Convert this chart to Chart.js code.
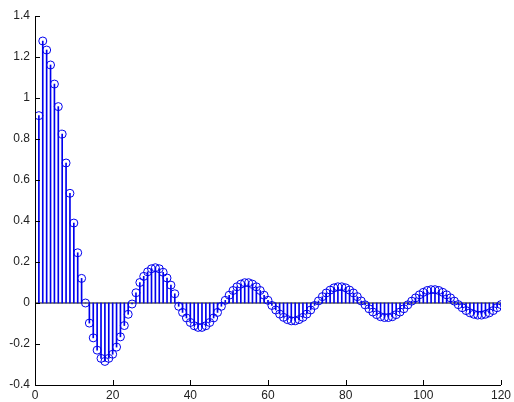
<!DOCTYPE html>
<html>
<head>
<meta charset="utf-8">
<script src="https://cdn.jsdelivr.net/npm/chart.js@4/dist/chart.umd.min.js"></script>
<style>
html,body{margin:0;padding:0;background:#fff;}
#wrap{width:514px;height:402px;}
</style>
</head>
<body>
<div id="wrap"><canvas id="c" width="514" height="402"></canvas></div>
<script>
// sample index n = 1..120
const sampleIndex = [];
for (let i = 1; i <= 120; i++) sampleIndex.push(i);

const values = [
  0.914, 1.278, 1.234, 1.161, 1.068, 0.958, 0.824, 0.683, 0.535, 0.39,
  0.245, 0.12, 0.0, -0.098, -0.17, -0.23, -0.27, -0.285, -0.27, -0.25,
  -0.215, -0.165, -0.11, -0.055, -0.005, 0.05, 0.10, 0.13, 0.152, 0.167,
  0.172, 0.167, 0.15, 0.122, 0.087, 0.045, -0.016, -0.046, -0.073, -0.095,
  -0.111, -0.119, -0.119, -0.111, -0.095, -0.073, -0.046, -0.016, 0.013, 0.038,
  0.061, 0.079, 0.092, 0.099, 0.099, 0.092, 0.079, 0.061, 0.038, 0.013,
  -0.012, -0.034, -0.054, -0.070, -0.081, -0.087, -0.087, -0.081, -0.070, -0.054,
  -0.034, -0.012, 0.010, 0.031, 0.049, 0.063, 0.074, 0.079, 0.079, 0.074,
  0.063, 0.049, 0.031, 0.010, -0.009, -0.028, -0.044, -0.057, -0.067, -0.071,
  -0.071, -0.067, -0.057, -0.044, -0.028, -0.009, 0.009, 0.025, 0.040, 0.052,
  0.061, 0.065, 0.065, 0.061, 0.052, 0.040, 0.025, 0.009, -0.008, -0.023,
  -0.037, -0.048, -0.055, -0.059, -0.059, -0.055, -0.048, -0.037, -0.023, -0.008
];

const xTicks = [0, 20, 40, 60, 80, 100, 120];
const yTicks = [-0.4, -0.2, 0, 0.2, 0.4, 0.6, 0.8, 1, 1.2, 1.4];

const pts = sampleIndex.map((n, i) => ({x: n, y: values[i]}));
const baseline = [{x: xTicks[0], y: 0}, {x: xTicks[xTicks.length - 1], y: 0}];

const stemBlue = '#0000ee';

const inwardTicks = {
  id: 'inwardTicks',
  afterDraw(chart) {
    const ctx = chart.ctx;
    const xs = chart.scales.x, ys = chart.scales.y;
    const a = chart.chartArea;
    ctx.save();
    ctx.strokeStyle = '#000';
    ctx.lineWidth = 1;
    ctx.beginPath();
    ctx.moveTo(Math.round(a.left) + 0.5, a.top);
    ctx.lineTo(Math.round(a.left) + 0.5, Math.round(a.bottom) + 0.5);
    ctx.lineTo(a.right, Math.round(a.bottom) + 0.5);
    xTicks.forEach(v => {
      const px = Math.round(xs.getPixelForValue(v)) + 0.5;
      ctx.moveTo(px, Math.round(a.bottom));
      ctx.lineTo(px, Math.round(a.bottom) - 5);
    });
    yTicks.forEach(v => {
      const py = Math.round(ys.getPixelForValue(v)) + 0.5;
      ctx.moveTo(Math.round(a.left), py);
      ctx.lineTo(Math.round(a.left) + 5, py);
    });
    ctx.stroke();
    ctx.restore();
  }
};

new Chart(document.getElementById('c'), {
  data: {
    datasets: [
      {
        type: 'line',
        data: baseline,
        borderColor: '#000',
        borderWidth: 1,
        pointRadius: 0,
        order: 3
      },
      {
        type: 'bar',
        data: pts,
        backgroundColor: stemBlue,
        barThickness: 1,
        borderWidth: 0,
        order: 2
      },
      {
        type: 'line',
        data: pts,
        showLine: false,
        pointStyle: 'circle',
        pointRadius: 4,
        pointBorderWidth: 1,
        pointBorderColor: stemBlue,
        pointBackgroundColor: 'rgba(0,0,0,0)',
        order: 1
      }
    ]
  },
  options: {
    responsive: false,
    animation: false,
    devicePixelRatio: 1,
    layout: {padding: {top: 16, right: 11, left: 0, bottom: 0}},
    plugins: {legend: {display: false}, tooltip: {enabled: false}},
    scales: {
      x: {
        type: 'linear',
        min: 0, max: 120,
        offset: false,
        grid: {display: false, drawTicks: false},
        border: {display: false},
        afterBuildTicks: s => { s.ticks = xTicks.map(v => ({value: v})); },
        afterFit: s => { s.height = 17; },
        ticks: {
          color: '#222',
          padding: 3,
          font: {family: 'Liberation Sans, Arial, sans-serif', size: 12},
          maxRotation: 0,
          autoSkip: false
        }
      },
      y: {
        type: 'linear',
        min: -0.4, max: 1.4,
        grid: {display: false, drawTicks: false},
        border: {display: false},
        afterBuildTicks: s => { s.ticks = yTicks.map(v => ({value: v})); },
        afterFit: s => { s.width = 35; },
        ticks: {
          color: '#222',
          padding: 5,
          font: {family: 'Liberation Sans, Arial, sans-serif', size: 12},
          autoSkip: false,
          callback: v => String(Math.round(v * 10) / 10)
        }
      }
    }
  },
  plugins: [inwardTicks]
});
</script>
</body>
</html>
